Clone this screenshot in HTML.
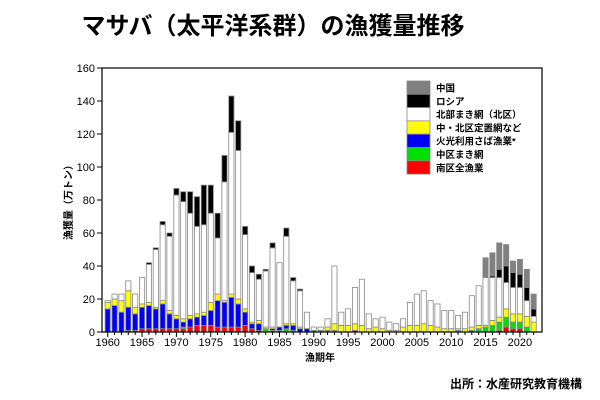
<!DOCTYPE html>
<html><head><meta charset="utf-8"><style>
body{margin:0;background:#fff;width:600px;height:400px;overflow:hidden}
svg{display:block}
text{font-family:"Liberation Sans","Noto Sans CJK JP",sans-serif}
</style></head><body>
<svg id="s" width="600" height="400" xmlns="http://www.w3.org/2000/svg">
<text x="273" y="34" font-size="24" font-weight="bold" text-anchor="middle" font-family="'Noto Sans CJK JP',sans-serif">マサバ（太平洋系群）の漁獲量推移</text>
<g id="bars"></g>
<rect x="102" y="68" width="440" height="264" fill="none" stroke="#000" stroke-width="1.2"/>
<g id="ax" font-size="11" fill="#000"></g>
<text transform="translate(72,200) rotate(-90)" font-size="10" font-weight="bold" text-anchor="middle" font-family="'Noto Sans CJK JP',sans-serif">漁獲量（万トン）</text>
<text x="320" y="361" font-size="10" font-weight="bold" text-anchor="middle" font-family="'Noto Sans CJK JP',sans-serif">漁期年</text>
<text x="582" y="388" font-size="12" font-weight="bold" text-anchor="end" font-family="'Noto Sans CJK JP',sans-serif">出所：水産研究教育機構</text>
<g id="lg" font-size="9.5" font-weight="bold"></g>
</svg>
<script>
var ns="http://www.w3.org/2000/svg",s=document.getElementById('s');
function el(p,t,a,txt){var e=document.createElementNS(ns,t);for(var k in a)e.setAttribute(k,a[k]);if(txt)e.textContent=txt;document.getElementById(p).appendChild(e);return e;}
function Y(v){return 332-v*1.65;}
function X(yr){return 107.7+(yr-1960)*6.87;}
var cols=['#ff0000','#00e000','#0000ff','#ffff00','#ffffff','#000000','#808080'];
// cumulative tops: red, green, blue, yellow, white, black, gray
var d={
1960:[0,0,14,18,19,19,19],1961:[0,0,16,20,23,23,23],1962:[0,0,12,19,23,23,23],1963:[1,1,15,25,31,31,31],
1964:[1,1,11,15,23,23,23],1965:[2,2,15,17,33,33,33],1966:[2,2,16,18,41,42,42],1967:[2,2,14,15,50,51,51],
1968:[2,2,17,19,65,67,67],1969:[2,2,11,13,58,60,60],1970:[2,2,8,10,83,87,87],1971:[2,3,6,8,79,85,85],
1972:[3,3,8,10,72,85,85],1973:[4,4,9,11,64,82,82],1974:[4,4,10,12,65,89,89],1975:[4,4,13,18,72,89,89],
1976:[3,3,19,23,57,72,72],1977:[3,3,18,19,91,107,107],1978:[3,3,21,23,121,143,143],1979:[3,3,17,20,110,128,128],
1980:[4,4,12,14,59,64,64],1981:[2,2,5,6,36,40,40],1982:[1,1,5,7,32,35,35],1983:[0,2,2,3,37,38,38],
1984:[0,1,2,3,51,54,54],1985:[0,1,3,3,42,42,42],1986:[0,2,4,5,58,63,63],1987:[0,1,4,5,31,33,33],
1988:[0,0,2,3,25,26,26],1989:[0,0,2,2,12,12,12],1990:[0,1,1,1,3,3,3],1991:[0,1,1,1,3,3,3],
1992:[0,1,1,3,8,8,8],1993:[0,1,1,5,40,40,40],1994:[0,0,0,4,12,12,12],1995:[0,0,0,4,14,14,14],
1996:[1,1,1,5,27,27,27],1997:[0,0,0,4,32,32,32],1998:[0,0,0,2,11,11,11],1999:[0,0,0,3,8,8,8],
2000:[0,0,0,2,9,9,9],2001:[0,0,0,1,6,6,6],2002:[0,0,0,1,5,5,5],2003:[0,0,0,3,8,8,8],
2004:[0,0,0,4,18,18,18],2005:[0,0,0,4,23,23,23],2006:[0,0,0,5,25,25,25],2007:[0,0,0,4,19,19,19],
2008:[0,0,0,3,17,17,17],2009:[0,0,0,2,13,13,13],2010:[0,0,0,2,13,13,13],2011:[0,1,1,2,10,10,10],
2012:[0,0,0,2,12,12,12],2013:[0,1,1,3,22,22,22],2014:[0,2,2,4,28,28,28],2015:[0,3,3,4,33,33,45],
2016:[0,4,4,7,33,34,48],2017:[1,6,6,9,33,38,54],2018:[3,9,9,14,30,40,53],2019:[2,6,6,11,27,36,43],
2020:[2,6,6,11,27,35,44],2021:[0,3,3,9.5,19,27,38],2022:[0,0,0,6,9.5,14,23]};
for(var yr=1960;yr<=2022;yr++){var a=d[yr],prev=0,x=X(yr)-2.6;
 for(var i=0;i<7;i++){var v=a[i];if(v>prev){el('bars','rect',{x:x,y:Y(v),width:5.2,height:(v-prev)*1.65,fill:cols[i],stroke:'#888','stroke-width':0.8});}prev=Math.max(prev,v);}}
for(var v=0;v<=160;v+=20){el('ax','line',{x1:97,x2:102,y1:Y(v),y2:Y(v),stroke:'#000'});el('ax','text',{x:95,y:Y(v)+4,'text-anchor':'end'},String(v));}
for(var yr=1960;yr<=2022;yr++){var big=yr%5==0;el('ax','line',{x1:X(yr),x2:X(yr),y1:332,y2:big?337:335,stroke:'#000'});if(big)el('ax','text',{x:X(yr),y:346,'text-anchor':'middle'},String(yr));}
var names=['中国','ロシア','北部まき網（北区）','中・北区定置網など','火光利用さば漁業*','中区まき網','南区全漁業'];
var lc=['#808080','#000000','#ffffff','#ffff00','#0000ff','#00e000','#ff0000'];
for(var i=0;i<7;i++){var y=81+i*13.3;el('lg','rect',{x:407,y:y,width:23,height:13.3,fill:lc[i],stroke:'#888','stroke-width':0.8});el('lg','text',{x:436,y:y+10.5},names[i]);}
</script>
</body></html>
